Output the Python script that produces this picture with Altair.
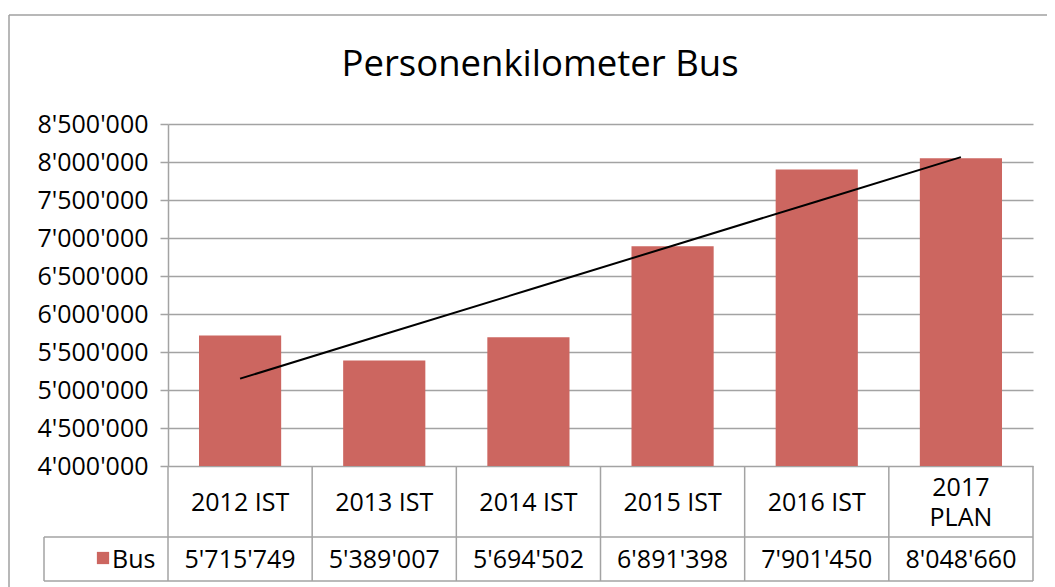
import altair as alt
import numpy as np
import pandas as pd

categories = ["2012 IST", "2013 IST", "2014 IST", "2015 IST", "2016 IST", "2017 PLAN"]
header_labels = ["2012 IST", "2013 IST", "2014 IST", "2015 IST", "2016 IST", "2017\nPLAN"]
bus_values = [5715749, 5389007, 5694502, 6891398, 7901450, 8048660]
y_ticks = [4000000, 4500000, 5000000, 5500000, 6000000, 6500000, 7000000, 7500000, 8000000, 8500000]
series_name = "Bus"
chart_title = "Personenkilometer Bus"

# linear trend line (Excel-style) computed from the data
idx = np.arange(1, len(bus_values) + 1)
slope, intercept = np.polyfit(idx, bus_values, 1)
trend = slope * idx + intercept

df = pd.DataFrame({"cat": categories, "value": bus_values, "header": header_labels,
                   "trend": trend,
                   "lines": [h.count("\n") + 1 for h in header_labels]})

W, H = 865, 342
GRID = "#a3a3a3"
BAR = "#cc6660"
FONT = "Open Sans"
FS = 25

xscale = alt.Scale(paddingInner=0, paddingOuter=0)
xs = alt.X("cat:N", sort=categories, axis=None, scale=xscale)
yscale = alt.Scale(domain=[4000000, 8500000], zero=False, nice=False)
yaxis = alt.Axis(values=y_ticks, format=",d", grid=True, gridColor=GRID,
                 gridWidth=1.5, domainColor=GRID, domainWidth=1.5,
                 tickColor=GRID, tickWidth=1.5, tickSize=8,
                 labelFont=FONT, labelFontSize=FS, labelColor="black",
                 labelPadding=12, labelOverlap=False)
base = alt.Chart(df)

bars = base.mark_bar(color=BAR, width={"band": 0.57}, clip=True).encode(
    x=xs,
    y=alt.Y("value:Q", title=None, scale=yscale, axis=yaxis),
)

line = base.mark_line(color="black", strokeWidth=2).encode(
    x=xs, y=alt.Y("trend:Q", title=None, scale=yscale, axis=yaxis)
)

headers1 = base.transform_filter("datum.lines == 1").mark_text(
    font=FONT, fontSize=FS, baseline="middle", color="black").encode(
    x=xs, y=alt.value(H + 37), text="header:N"
)
headers2 = base.transform_filter("datum.lines == 2").mark_text(
    font=FONT, fontSize=FS, lineBreak="\n", lineHeight=30,
    baseline="middle", color="black").encode(
    x=xs, y=alt.value(H + 22), text="header:N"
)

values_txt = base.mark_text(font=FONT, fontSize=FS, baseline="middle", color="black").encode(
    x=xs, y=alt.value(H + 94), text=alt.Text("value:Q", format=",d")
)

vlines = base.mark_rule(color=GRID, strokeWidth=1.5).encode(
    x=alt.X("cat:N", sort=categories, axis=None, bandPosition=0, scale=xscale),
    y=alt.value(H), y2=alt.value(H + 115)
)

edge_df = pd.DataFrame({"k": [0]})
edges = alt.Chart(edge_df)
right_line = edges.mark_rule(color=GRID, strokeWidth=1.5).encode(
    x=alt.value(W), y=alt.value(H), y2=alt.value(H + 115))
row_line = edges.mark_rule(color=GRID, strokeWidth=1.5).encode(
    x=alt.value(-124), x2=alt.value(W), y=alt.value(H + 71))
bottom_line = edges.mark_rule(color=GRID, strokeWidth=1.5).encode(
    x=alt.value(-124), x2=alt.value(W), y=alt.value(H + 115))
left_cell = edges.mark_rule(color=GRID, strokeWidth=1.5).encode(
    x=alt.value(-124), y=alt.value(H + 71), y2=alt.value(H + 115))

legend_sq = edges.mark_square(color=BAR, size=150, opacity=1).encode(
    x=alt.value(-65), y=alt.value(H + 92))
legend_txt = edges.mark_text(font=FONT, fontSize=FS, align="left", baseline="middle",
                             color="black", text=series_name).encode(
    x=alt.value(-56), y=alt.value(H + 94))

title_txt = edges.mark_text(font=FONT, fontSize=36.5, align="center", baseline="alphabetic",
                            color="black", text=chart_title).encode(
    x=alt.value(372), y=alt.value(-48))

frame_top = edges.mark_rule(color="#a0a0a0", strokeWidth=1.5).encode(
    x=alt.value(-159), x2=alt.value(W + 30), y=alt.value(-109))
frame_left = edges.mark_rule(color="#a0a0a0", strokeWidth=1.5).encode(
    x=alt.value(-159), y=alt.value(-109), y2=alt.value(H + 130))

chart = alt.layer(
    frame_top, frame_left, title_txt,
    bars, line, vlines, right_line, row_line, bottom_line, left_cell,
    headers1, headers2, values_txt, legend_sq, legend_txt,
).properties(
    width=W, height=H,
    autosize=alt.AutoSizeParams(type="none"),
    padding={"left": 160, "top": 116, "right": 14, "bottom": 125},
).configure(
    locale={"number": {"decimal": ".", "thousands": "'", "grouping": [3],
                       "currency": ["", ""]}}
).configure_view(strokeWidth=0, stroke=None)

chart.save("out.html", embed_options={"renderer": "svg", "actions": False})
